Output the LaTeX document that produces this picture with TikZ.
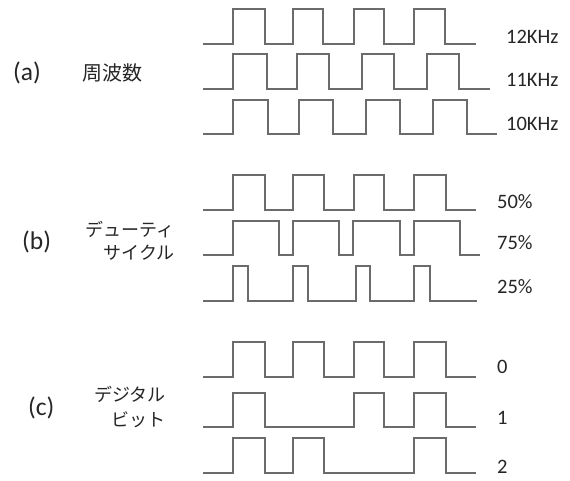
\documentclass[tikz,border=0pt]{standalone}
\usepackage{fontspec}
\setmainfont{Carlito}
\newfontfamily\jp{Noto Sans CJK JP}
\begin{document}
\begin{tikzpicture}[x=1pt,y=-1pt,
  wave/.style={draw=black!58, line width=1.8pt, line join=miter},
  val/.style={anchor=west, inner sep=0pt, font=\fontsize{20.5}{24}\selectfont, text=black!85},
  tag/.style={anchor=west, inner sep=0pt, font=\fontsize{25.5}{28}\selectfont, text=black!85},
  jlab/.style={anchor=east, inner sep=0pt, align=right, text=black!85}]
\useasboundingbox[fill=white] (0,0) rectangle (570,481);

% (a) frequency
\draw[wave] (203,44) -- (233,44) -- (233,9) -- (265,9) -- (265,44) -- (293,44) -- (293,9) -- (323,9) -- (323,44) -- (354,44) -- (354,9) -- (384,9) -- (384,44) -- (414,44) -- (414,9) -- (445,9) -- (445,44) -- (476,44);
\draw[wave] (203,89) -- (233,89) -- (233,54) -- (267,54) -- (267,89) -- (297,89) -- (297,54) -- (329,54) -- (329,89) -- (362,89) -- (362,54) -- (394,54) -- (394,89) -- (427,89) -- (427,54) -- (459,54) -- (459,89) -- (490,89);
\draw[wave] (203,134) -- (233,134) -- (233,100) -- (268,100) -- (268,134) -- (299,134) -- (299,100) -- (333,100) -- (333,134) -- (366,134) -- (366,100) -- (400,100) -- (400,134) -- (433,134) -- (433,100) -- (467,100) -- (467,134) -- (497,134);

% (b) duty cycle
\draw[wave] (203,210) -- (233,210) -- (233,175) -- (265,175) -- (265,210) -- (293,210) -- (293,175) -- (324,175) -- (324,210) -- (354,210) -- (354,175) -- (384,175) -- (384,210) -- (414,210) -- (414,175) -- (446,175) -- (446,210) -- (476,210);
\draw[wave] (203,255) -- (233,255) -- (233,221) -- (279,221) -- (279,255) -- (293,255) -- (293,221) -- (339,221) -- (339,255) -- (353,255) -- (353,221) -- (400,221) -- (400,255) -- (414,255) -- (414,221) -- (460,221) -- (460,255) -- (480,255);
\draw[wave] (203,301) -- (233,301) -- (233,266) -- (248,266) -- (248,301) -- (293,301) -- (293,266) -- (308,266) -- (308,301) -- (356,301) -- (356,266) -- (370,266) -- (370,301) -- (414,301) -- (414,266) -- (430,266) -- (430,301) -- (477,301);

% (c) digital bits
\draw[wave] (203,377) -- (233,377) -- (233,342) -- (265,342) -- (265,377) -- (293,377) -- (293,342) -- (324,342) -- (324,377) -- (354,377) -- (354,342) -- (384,342) -- (384,377) -- (414,377) -- (414,342) -- (446,342) -- (446,377) -- (476,377);
\draw[wave] (203,427) -- (233,427) -- (233,393) -- (265,393) -- (265,427) -- (354,427) -- (354,393) -- (384,393) -- (384,427) -- (414,427) -- (414,393) -- (446,393) -- (446,427) -- (476,427);
\draw[wave] (203,473) -- (233,473) -- (233,438) -- (265,438) -- (265,473) -- (293,473) -- (293,438) -- (324,438) -- (324,473) -- (414,473) -- (414,438) -- (446,438) -- (446,473) -- (476,473);

% value labels
\node[val] (v12) at (506,37) {12KHz};
\node[val] (v11) at (506,80) {11KHz};
\node[val] (v10) at (506,124) {10KHz};
\node[val] (v50) at (497,202) {50\%};
\node[val] (v75) at (497,243) {75\%};
\node[val] (v25) at (497,287) {25\%};
\node[val] (v0) at (497,367) {0};
\node[val] (v1) at (497,418) {1};
\node[val] (v2) at (497,467) {2};

% section tags
\node[tag] (ta) at (13,73) {(a)};
\node[tag] (tb) at (22,242) {(b)};
\node[tag] (tc) at (28,408) {(c)};

% Japanese labels
\node[anchor=west, inner sep=0pt, text=black!85, font=\jp\fontsize{20}{23}\selectfont] (ja) at (82,73) {周波数};
\node[jlab, font=\jp\fontsize{18}{23}\selectfont] (jb) at (175,241) {デューティ\\サイクル};
\node[jlab, font=\jp\fontsize{18}{25}\selectfont] (jc) at (166,407) {デジタル\\ビット};
\end{tikzpicture}
\end{document}
